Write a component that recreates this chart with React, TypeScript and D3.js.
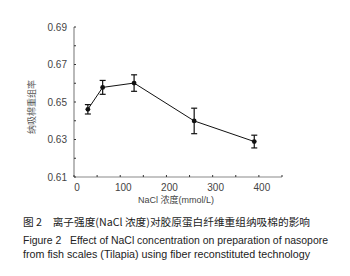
import React from "react";
import * as d3 from "d3";

const nacl = [30, 62, 130, 260, 390];
const ratio = [0.6461, 0.6578, 0.6601, 0.6399, 0.6289];
const errs = [0.0025, 0.0037, 0.0044, 0.0068, 0.0034];
const yTicks = [0.61, 0.63, 0.65, 0.67, 0.69];
const yMinor = [0.62, 0.64, 0.66, 0.68];
const xTicks = [0, 100, 200, 300, 400];
const xMinor = [50, 150, 250, 350, 450];

export default function App() {
  const x = d3.scaleLinear().domain([0, 450]).range([74, 282]);
  const y = d3.scaleLinear().domain([0.61, 0.69]).range([177, 27]);
  const line = d3.line<number>().x((_, i) => x(nacl[i])).y((d) => y(d));
  const font = "Arial, 'Liberation Sans', sans-serif";
  const cjk = "'Noto Sans CJK SC', sans-serif";
  const axisColor = "#8a8a8a";
  return (
    <svg width={350} height={276} style={{ position: "absolute", left: 0, top: 0, background: "#fff" }}>
      <rect width={350} height={276} fill="#fff" />
      <line x1={x(0)} x2={x(0)} y1={y(0.69)} y2={y(0.61)} stroke={axisColor} strokeWidth={1.2} />
      <line x1={x(0)} x2={x(450)} y1={y(0.61)} y2={y(0.61)} stroke={axisColor} strokeWidth={1.2} />
      {yTicks.concat(yMinor).map((t) => (
        <line key={"yt" + t} x1={x(0)} x2={x(0) + 2} y1={y(t)} y2={y(t)} stroke="#333" strokeWidth={1} />
      ))}
      {xTicks.concat(xMinor).map((t) => (
        <line key={"xt" + t} x1={x(t)} x2={x(t)} y1={y(0.61)} y2={y(0.61) - 2} stroke="#333" strokeWidth={1} />
      ))}
      {yTicks.map((t) => (
        <text key={"yl" + t} x={x(0) - 7} y={y(t)} dy="0.35em" textAnchor="end" fontFamily={font} fontSize={10} fill="#444">
          {t.toFixed(2)}
        </text>
      ))}
      {xTicks.map((t) => (
        <text key={"xl" + t} x={x(t) + 3} y={187} dy="0.35em" textAnchor="middle" fontFamily={font} fontSize={10} fill="#444">
          {t}
        </text>
      ))}
      <text transform={`translate(32,107) rotate(-90)`} textAnchor="middle" dy="0.35em" fontFamily={cjk} fontSize={9} fill="#555">
        纳吸棉重组率
      </text>
      <text x={176} y={200} dy="0.35em" textAnchor="middle" fontFamily={font} fontSize={9} fill="#444">
        NaCl <tspan fontFamily={cjk}>浓度</tspan>(mmol/L)
      </text>
      <path d={line(ratio) || ""} fill="none" stroke="#111" strokeWidth={1} />
      {ratio.map((v, i) => (
        <g key={"p" + i} stroke="#111" strokeWidth={1.2}>
          <line x1={x(nacl[i])} x2={x(nacl[i])} y1={y(v - errs[i])} y2={y(v + errs[i])} />
          <line x1={x(nacl[i]) - 3} x2={x(nacl[i]) + 3} y1={y(v - errs[i])} y2={y(v - errs[i])} />
          <line x1={x(nacl[i]) - 3} x2={x(nacl[i]) + 3} y1={y(v + errs[i])} y2={y(v + errs[i])} />
          <circle cx={x(nacl[i])} cy={y(v)} r={2.4} fill="#111" stroke="none" />
        </g>
      ))}
      <text x={23} y={222} dy="0.35em" fontFamily={cjk} fontSize={10.4} fill="#222" textLength={287} lengthAdjust="spacingAndGlyphs">
        图 2　离子强度(NaCl 浓度)对胶原蛋白纤维重组纳吸棉的影响
      </text>
      <text x={23} y={240} dy="0.35em" fontFamily={font} fontSize={10.4} fill="#222" textLength={305} lengthAdjust="spacingAndGlyphs">
        Figure 2{"\u00a0\u00a0\u00a0"}Effect of NaCl concentration on preparation of nasopore
      </text>
      <text x={23} y={254} dy="0.35em" fontFamily={font} fontSize={10.4} fill="#222" textLength={287} lengthAdjust="spacingAndGlyphs">
        from fish scales (Tilapia) using fiber reconstituted technology
      </text>
    </svg>
  );
}
